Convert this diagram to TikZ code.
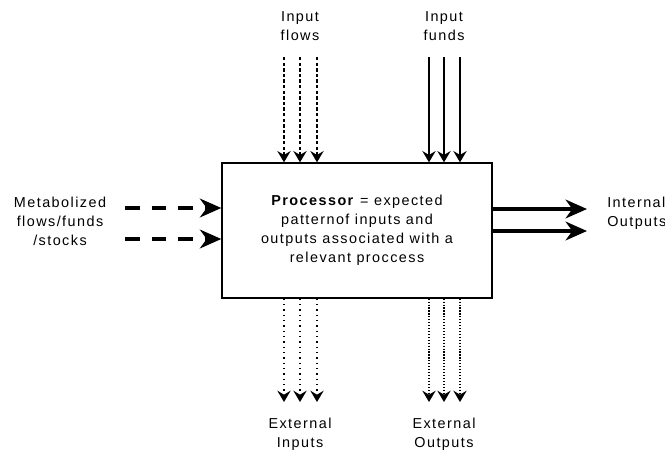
\documentclass[tikz,border=0pt]{standalone}
\usepackage{fontspec}
\setmainfont{Liberation Sans}[LetterSpace=10]
\usetikzlibrary{arrows.meta}
\usetikzlibrary{positioning}

\tikzset{
  lbl/.style={align=center, font=\fontsize{10.8}{14.2}\selectfont, inner sep=0pt},
  thinarrow/.style={-{Stealth[length=8.5pt, width=10pt, inset=3pt]}, line width=0.9pt},
  fatarrow/.style={-{Stealth[length=16pt, width=14pt, inset=5pt]}, line width=2.8pt},
}

\begin{document}
\begin{tikzpicture}[x=0.75pt, y=-0.75pt]

\draw[draw=none, use as bounding box] (0, 0) rectangle (665, 451);

\node [draw, line width=1pt, minimum width=202.5pt, minimum height=101.25pt, lbl]
      (proc) at (357, 230.5)
      {\textbf{Processor} = expected\\patternof inputs and\\outputs associated with a\\relevant proccess};

% top: flows and funds
\foreach \x [count=\i] in {284, 300, 317}
    \coordinate (fl\i) at (\x, 57);
\foreach \x [count=\i] in {429, 444, 460}
    \coordinate (fu\i) at (\x, 57);
\foreach \i in {1, 2, 3} {
    \draw [thinarrow, dash pattern=on 2.6pt off 1.6pt] (fl\i) -- (fl\i |- proc.north);
    \draw [thinarrow] (fu\i) -- (fu\i |- proc.north);
}
\node [lbl, above=12pt of fl2] (flowlbl) {Input\\flows};
\node [lbl, above=12pt of fu2] (fundlbl) {Input\\funds};

% bottom: external
\foreach \x [count=\i] in {284, 300, 317}
    \coordinate (ei\i) at (\x, 402);
\foreach \x [count=\i] in {429, 444, 460}
    \coordinate (eo\i) at (\x, 402);
\foreach \i in {1, 2, 3} {
    \draw [thinarrow, dash pattern=on 0.9pt off 3.1pt] (ei\i |- proc.south) -- (ei\i);
    \draw [thinarrow, dash pattern=on 0.9pt off 1.3pt] (eo\i |- proc.south) -- (eo\i);
}
\node [lbl, below=12pt of ei2] (extin) {External\\Inputs};
\node [lbl, below=12pt of eo2] (extout) {External\\Outputs};

% left: metabolized
\coordinate (m1) at (125, 208);
\coordinate (m2) at (125, 239);
\draw [fatarrow, dash pattern=on 11pt off 9pt] (m1) -- (m1 -| proc.west);
\draw [fatarrow, dash pattern=on 11pt off 9pt] (m2) -- (m2 -| proc.west);
\node [lbl] (metab) at (60, 221) {Metabolized\\flows/funds\\/stocks};

% right: internal outputs
\coordinate (o1) at (587, 209);
\coordinate (o2) at (587, 231);
\draw [fatarrow] (o1 -| proc.east) -- (o1);
\draw [fatarrow] (o2 -| proc.east) -- (o2);
\node [lbl, align=left, anchor=west] (intout) at (607, 213) {Internal\\Outputs};

\end{tikzpicture}
\end{document}
